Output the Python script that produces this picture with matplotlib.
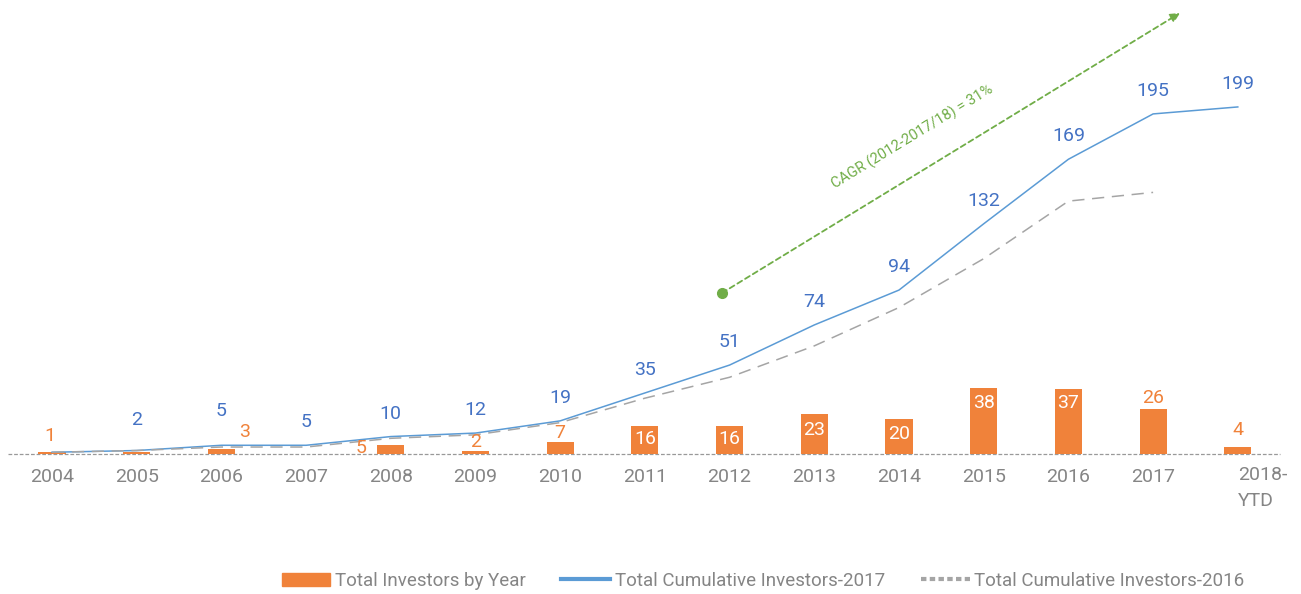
import matplotlib
matplotlib.use("Agg")
import matplotlib.pyplot as plt
from matplotlib.patches import Patch
from matplotlib.lines import Line2D

plt.rcParams['font.family'] = ['Roboto', 'DejaVu Sans']

years = ['2004', '2005', '2006', '2007', '2008', '2009', '2010', '2011',
         '2012', '2013', '2014', '2015', '2016', '2017', '2018-\nYTD']
by_year = [1, 1, 3, 0, 5, 2, 7, 16, 16, 23, 20, 38, 37, 26, 4]
cum_2017 = [1, 2, 5, 5, 10, 12, 19, 35, 51, 74, 94, 132, 169, 195, 199]
cum_2016 = [1, 2, 4, 4, 9, 11, 18, 32, 44, 62, 84, 112, 145, 150]
cagr_text = 'CAGR (2012-2017/18) = 31%'

ORANGE = '#F0823A'
BLUE = '#5B9BD5'
BLUE_TXT = '#4472C4'
GRAY = '#A5A5A5'
GREEN = '#70AD47'
TICK = '#858585'

W, H, DPI = 1301, 594, 100
px = 72 / DPI  # pixels -> points

fig = plt.figure(figsize=(W / DPI, H / DPI), dpi=DPI)
ax = fig.add_axes([0, 0, 1, 1])
ax.axis('off')

# pixel mapping: x0 at 52px, step 84.7px; baseline at 454px, 1.744px/unit
step, x0 = 84.7, 52
ppu, base = 1.744, 454
ax.set_xlim(-x0 / step, (W - x0) / step)
ax.set_ylim(-(H - base) / ppu, base / ppu)

xs = list(range(len(years)))

ax.plot([-0.52, 14.5], [0, 0], color='#999999', lw=0.9, ls=(0, (3, 1.5)), zorder=1)
ax.bar(xs, by_year, width=0.32, color=ORANGE, zorder=2)
ax.plot(xs, cum_2017, color=BLUE, lw=1.1, zorder=3)
ax.plot(xs[:len(cum_2016)], cum_2016, color=GRAY, lw=1.1,
        ls=(0, (8, 5)), zorder=3)

# cumulative labels (the first one is hidden behind the bar label)
blue_off = {1: 31, 2: 34}
for i, v in enumerate(cum_2017):
    if i == 0:
        continue
    ax.annotate(str(v), (i, v), xytext=(0, blue_off.get(i, 23) * px),
                textcoords='offset points', ha='center', va='center',
                color=BLUE_TXT, fontsize=14)

# yearly labels: (dx, dy) in px from bar top (dy>0 = downwards), inside -> white
bar_lab = {0: (-2, -16), 2: (23, -17), 4: (-30, 3), 5: (0, -9), 6: (0, -9),
           7: (0, 13), 8: (0, 13), 9: (0, 16), 10: (0, 15), 11: (0, 15),
           12: (0, 14), 13: (0, -11), 14: (0, -17)}
inside = {7, 8, 9, 10, 11, 12}
for i, (dx, dy) in bar_lab.items():
    ax.annotate(str(by_year[i]), (i, by_year[i]), xytext=(dx * px, -dy * px),
                textcoords='offset points', ha='center', va='center',
                color='white' if i in inside else ORANGE, fontsize=14, zorder=4)

# x labels
for i, lab in enumerate(years):
    if '\n' in lab:
        ax.text(i, -(466 - base) / ppu, lab, ha='left', va='top', color=TICK,
                fontsize=14, linespacing=1.6)
    else:
        ax.text(i, -(477 - base) / ppu, lab, ha='center', va='center',
                color=TICK, fontsize=14)

# CAGR arrow
sx, sy = (722 - x0) / step, (base - 293) / ppu
ex, ey = (1180 - x0) / step, (base - 13) / ppu
ax.annotate('', xy=(ex, ey), xytext=(sx, sy),
            arrowprops=dict(arrowstyle='-|>', color=GREEN, lw=1.3,
                            ls=(0, (3, 2)), mutation_scale=14,
                            shrinkA=0, shrinkB=0))
ax.plot([sx], [sy], 'o', color=GREEN, ms=7, zorder=5)
ax.text((912 - x0) / step, (base - 137) / ppu, cagr_text, rotation=31.4,
        rotation_mode='anchor', ha='center', va='center', color=GREEN,
        fontsize=10.5)

handles = [Patch(color=ORANGE),
           Line2D([], [], color=BLUE, lw=3),
           Line2D([], [], color=GRAY, lw=3, ls=(0, (1.3, 0.8)))]
labels = ['Total Investors by Year', 'Total Cumulative Investors-2017',
          'Total Cumulative Investors-2016']
leg = fig.legend(handles, labels, loc='center', ncol=3,
                 bbox_to_anchor=(763 / W, 1 - 581 / H), frameon=False,
                 handlelength=2.6, handletextpad=0.25,
                 columnspacing=1.9, labelcolor=TICK,
                 prop={'size': 13.5})

fig.savefig('out.png', dpi=DPI)
